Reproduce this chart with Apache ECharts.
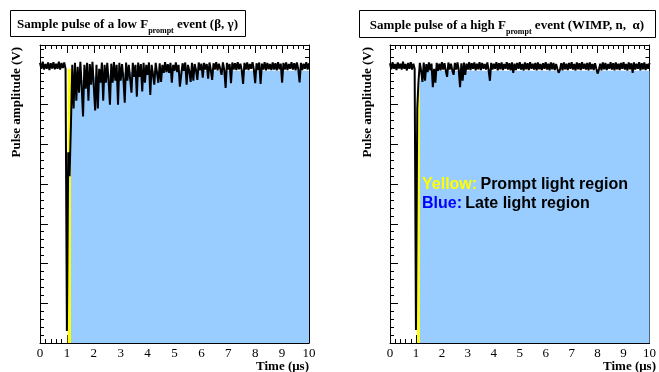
<!DOCTYPE html>
<html><head><meta charset="utf-8">
<script src="https://cdn.jsdelivr.net/npm/echarts@6/dist/echarts.min.js"></script>
<style>html,body{margin:0;padding:0;background:#fff}#c{width:659px;height:372px}</style>
</head><body><div id="c"></div>
<script>
// Sampling step of the traces (µs)
const sampleStep = 0.05;
const xTicks = [0, 10];

// Left panel: low Fprompt event (β, γ)
const leftTrace = [
 7.05, 6.9, 7.08, 6.88, 7.02, 6.9, 7.06, 6.87, 7.04, 6.91,
 7.07, 6.89, 7.03, 6.9, 7.08, 6.88, 7.05, 6.92, 7.06, 6.9,
 0.3, 4.8, 4.2, 5.5, 7.0, 5.9, 7.05, 6.1, 6.95, 6.3,
 7.08, 6.45, 5.7, 7.0, 6.4, 7.05, 6.1, 7.02, 6.5, 7.08,
 6.45, 5.85, 7.0, 5.9, 6.9, 6.55, 7.06, 6.1, 7.0, 6.55,
 7.05, 6.6, 6.0, 7.03, 6.55, 7.07, 6.6, 7.0, 6.0, 7.05,
 6.6, 7.02, 6.65, 6.05, 7.06, 6.6, 7.0, 6.65, 6.3, 7.05,
 6.7, 7.0, 6.2, 7.06, 6.7, 7.02, 6.33, 7.05, 6.55, 7.0,
 6.75, 7.06, 6.24, 7.0, 6.75, 6.5, 7.05, 6.8, 6.55, 7.04,
 6.57, 7.0, 6.8, 7.07, 6.82, 7.02, 6.8, 7.05, 6.55, 7.0,
 6.85, 7.06, 6.82, 7.0, 6.45, 6.42, 7.04, 6.85, 7.06, 6.5,
 7.0, 6.85, 6.57, 7.05, 6.6, 7.02, 6.87, 6.62, 7.06, 6.86,
 7.03, 6.68, 7.05, 6.88, 7.02, 6.65, 7.06, 6.87, 6.62, 7.04,
 6.88, 7.07, 6.86, 7.03, 6.9, 6.75, 7.06, 6.87, 6.42, 7.05,
 6.88, 7.02, 6.54, 7.06, 6.88, 7.04, 6.87, 7.07, 6.89, 7.03,
 6.86, 6.52, 7.05, 6.88, 7.06, 6.87, 7.02, 6.9, 7.07, 6.88,
 6.54, 7.04, 6.87, 7.06, 6.52, 7.03, 6.88, 7.07, 6.86, 7.05,
 6.89, 7.02, 6.87, 7.06, 6.88, 7.04, 6.86, 7.07, 6.89, 7.03,
 6.55, 7.05, 6.88, 7.06, 6.87, 7.02, 6.9, 7.07, 6.88, 7.04,
 6.86, 7.06, 6.89, 6.56, 7.05, 6.87, 7.03, 6.9, 7.07, 6.88, 7.04
];
const leftPromptT = [1.03, 1.15];
const leftPromptTop = [6.9, 6.9];
const leftLateT = [1.15, 1.2, 1.3, 1.5, 2.0, 3.0, 4.0, 10.0];
const leftLateTop = [5.9, 6.3, 6.5, 6.6, 6.7, 6.8, 6.85, 6.85];

// Right panel: high Fprompt event (WIMP, n, α)
const rightTrace = [
 7.04, 6.89, 7.07, 6.9, 7.02, 6.87, 7.06, 6.91, 7.03, 6.88,
 7.08, 6.9, 7.02, 6.86, 7.05, 6.9, 7.07, 6.88, 7.03, 6.9,
 0.33, 5.9, 6.6, 7.05, 6.85, 6.57, 7.06, 6.6, 7.02, 6.82,
 7.06, 6.86, 7.03, 6.44, 6.9, 6.55, 7.05, 6.85, 7.03, 6.86,
 7.07, 6.88, 7.04, 6.85, 6.7, 7.06, 6.88, 7.03, 6.86, 6.75,
 7.05, 6.88, 7.06, 6.87, 6.44, 7.04, 6.6, 7.06, 6.75, 7.03,
 6.88, 7.07, 6.87, 7.04, 6.9, 7.06, 6.86, 7.03, 6.89, 7.07,
 6.87, 7.05, 6.9, 7.02, 6.88, 7.06, 6.87, 6.6, 7.05, 6.88,
 7.03, 6.9, 7.07, 6.86, 7.04, 6.89, 7.06, 6.87, 7.02, 6.9,
 7.07, 6.88, 7.04, 6.86, 7.06, 6.8, 7.03, 6.87, 7.05, 6.9,
 7.07, 6.88, 7.02, 6.86, 7.06, 6.89, 7.04, 6.87, 7.07, 6.9,
 7.03, 6.88, 7.05, 6.86, 7.06, 6.89, 7.02, 6.87, 7.04, 6.9,
 7.07, 6.88, 7.03, 6.86, 7.06, 6.89, 7.05, 6.87, 7.02, 6.9,
 6.8, 6.88, 7.04, 6.86, 7.06, 6.89, 7.03, 6.87, 7.05, 6.9,
 7.07, 6.88, 7.02, 6.86, 7.06, 6.89, 7.04, 6.87, 7.07, 6.9,
 7.03, 6.88, 7.05, 6.86, 7.06, 6.89, 7.02, 6.87, 7.04, 6.9,
 6.78, 6.88, 7.03, 6.86, 7.06, 6.89, 7.05, 6.87, 7.02, 6.9,
 7.07, 6.88, 7.04, 6.86, 7.06, 6.89, 7.03, 6.87, 7.05, 6.9,
 7.07, 6.88, 7.02, 6.86, 7.06, 6.89, 7.04, 6.8, 7.06, 6.88,
 7.03, 6.9, 7.07, 6.86, 7.04, 6.89, 7.06, 6.87, 7.02, 6.9, 7.05
];
const rightPromptT = [1.04, 1.15];
const rightPromptTop = [5.9, 6.5];
const rightLateT = [1.15, 1.25, 10.0];
const rightLateTop = [6.55, 6.85, 6.85];

const chart = echarts.init(document.getElementById('c'), null, {renderer: 'canvas'});
const serif = '"Liberation Serif", "Times New Roman", serif';
const sans = '"Liberation Sans", Arial, sans-serif';

function xAxisDef(g, pos) {
  return {
    type: 'value', gridIndex: g, min: xTicks[0], max: xTicks[1], interval: 1, position: pos,
    axisLine: {show: true, onZero: false, lineStyle: {color: '#000', width: 1}},
    axisTick: {show: true, inside: true, length: 8, lineStyle: {color: '#000', width: 1}},
    minorTick: {show: true, splitNumber: 5, length: 4, lineStyle: {color: '#000', width: 1}},
    axisLabel: {show: pos === 'bottom', margin: 4, fontFamily: serif, fontSize: 13, color: '#000'},
    splitLine: {show: false}
  };
}
function yAxisDef(g, pos) {
  return {
    type: 'value', gridIndex: g, min: 0, max: 7.5, interval: 1, position: pos,
    axisLine: {show: true, onZero: false, lineStyle: {color: '#000', width: 1}},
    axisTick: {show: true, inside: true, length: 8, lineStyle: {color: '#000', width: 1}},
    minorTick: {show: true, splitNumber: 5, length: 4, lineStyle: {color: '#000', width: 1}},
    axisLabel: {show: false},
    splitLine: {show: false}
  };
}
function pairs(xs, ys) { return xs.map((x, i) => [x, ys[i]]); }
function traceData(vals) { return vals.map((v, i) => [+(i * sampleStep).toFixed(2), v]); }
function area(xs, ys, color, g) {
  return {type: 'line', xAxisIndex: g * 2, yAxisIndex: g * 2, data: pairs(xs, ys), symbol: 'none',
    lineStyle: {width: 0}, areaStyle: {color: color, opacity: 1}, silent: true, z: 2};
}
function trace(vals, g) {
  return {type: 'line', xAxisIndex: g * 2, yAxisIndex: g * 2, data: traceData(vals), symbol: 'none',
    lineStyle: {color: '#000', width: 2}, silent: true, z: 3};
}
function titleBox(x, w, y, h, text) {
  return [
    {type: 'rect', z: 100, shape: {x: x + 0.5, y: y + 0.5, width: w, height: h},
      style: {fill: '#fff', stroke: '#000', lineWidth: 1}},
    {type: 'text', z: 101, x: x + w / 2, y: y + h / 2 + 2,
      style: {text: text, align: 'center', verticalAlign: 'middle', fill: '#000',
        rich: {
          a: {fontFamily: serif, fontWeight: 'bold', fontSize: 13, lineHeight: 20, verticalAlign: 'middle', fill: '#000'},
          s: {fontFamily: serif, fontWeight: 'bold', fontSize: 8, lineHeight: 8, verticalAlign: 'bottom', fill: '#000'}
        }}}
  ];
}
function yLabel(x) {
  return {type: 'text', z: 100, x: x, y: 47, rotation: Math.PI / 2,
    style: {text: 'Pulse amplitude (V)', font: 'bold 13px ' + serif, align: 'right', verticalAlign: 'middle', fill: '#000'}};
}
function xLabel(x) {
  return {type: 'text', z: 100, x: x, y: 367,
    style: {text: 'Time (μs)', font: 'bold 13px ' + serif, align: 'right', verticalAlign: 'middle', fill: '#000'}};
}

const option = {
  animation: false,
  backgroundColor: '#fff',
  grid: [
    {left: 40, top: 45, width: 269, height: 298},
    {left: 390, top: 45, width: 269, height: 298}
  ],
  xAxis: [xAxisDef(0, 'bottom'), xAxisDef(0, 'top'), xAxisDef(1, 'bottom'), xAxisDef(1, 'top')],
  yAxis: [yAxisDef(0, 'left'), yAxisDef(0, 'right'), yAxisDef(1, 'left'), yAxisDef(1, 'right')],
  series: [
    area(leftPromptT, leftPromptTop, '#ffff00', 0),
    area(leftLateT, leftLateTop, '#99ccff', 0),
    trace(leftTrace, 0),
    area(rightPromptT, rightPromptTop, '#ffff00', 1),
    area(rightLateT, rightLateTop, '#99ccff', 1),
    trace(rightTrace, 1)
  ],
  graphic: [].concat(
    titleBox(10, 235, 10, 26, '{a|Sample pulse of a low F}{s|prompt}{a| event (β, γ)}'),
    titleBox(359, 296, 10, 27, '{a|Sample pulse of a high F}{s|prompt}{a| event (WIMP, n,  α)}'),
    [yLabel(17), yLabel(368), xLabel(309), xLabel(656),
     {type: 'text', z: 100, x: 422, y: 185,
       style: {text: '{y|Yellow:} {k|Prompt light region}', verticalAlign: 'middle',
         rich: {y: {font: 'bold 16px ' + sans, fill: '#ffff00'}, k: {font: 'bold 16px ' + sans, fill: '#000'}}}},
     {type: 'text', z: 100, x: 422, y: 204,
       style: {text: '{b|Blue:} {k|Late light region}', verticalAlign: 'middle',
         rich: {b: {font: 'bold 16px ' + sans, fill: '#0000ff'}, k: {font: 'bold 16px ' + sans, fill: '#000'}}}}
    ])
};
chart.setOption(option);
</script></body></html>
